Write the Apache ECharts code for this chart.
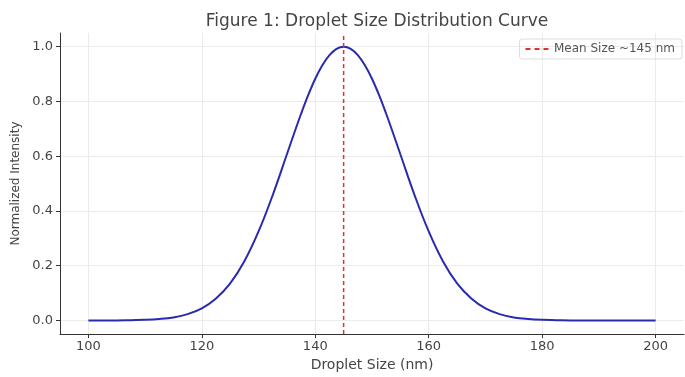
<!DOCTYPE html>
<html style="height: 100%">
<head>
    <meta charset="utf-8">
    <title>Droplet Size Distribution</title>
    <script src="https://cdn.jsdelivr.net/npm/echarts/dist/echarts.min.js"></script>
</head>
<body style="height: 100%; margin: 0; background: #fff">
    <div id="main" style="width: 685px; height: 377px"></div>
    <script type="text/javascript">
        // droplet size (nm) and normalized intensity
        var sizes = [100, 102.5, 105, 107.5, 110, 112.5, 115, 117.5, 120, 122.5, 125, 127.5, 130, 132.5, 135, 136.25, 137.5, 138.75,
            140, 141.25, 142.5, 143.75, 145, 146.25, 147.5, 148.75, 150, 151.25, 152.5, 153.75, 155, 157.5, 160, 162.5, 165,
            167.5, 170, 172.5, 175, 177.5, 180, 182.5, 185, 187.5, 190, 192.5, 195, 197.5, 200];
        var intensity = [0.000, 0.000, 0.000, 0.001, 0.002, 0.005, 0.011, 0.023, 0.044, 0.080, 0.135, 0.216, 0.325, 0.458, 0.607, 0.682, 0.755, 0.823,
            0.883, 0.932, 0.969, 0.992, 1.000, 0.992, 0.969, 0.932, 0.883, 0.823, 0.755, 0.682, 0.607, 0.458, 0.325, 0.216, 0.135,
            0.080, 0.044, 0.023, 0.011, 0.005, 0.002, 0.001, 0.000, 0.000, 0.000, 0.000, 0.000, 0.000, 0.000];
        var meanSize = 145;
        var xTicks = [100, 120, 140, 160, 180, 200];
        var yTicks = [0, 0.2, 0.4, 0.6, 0.8, 1.0];

        var curve = sizes.map(function (s, i) { return [s, intensity[i]]; });
        var meanLine = [[meanSize, -0.05], [meanSize, 1.05]];

        var font = 'DejaVu Sans';
        var myChart = echarts.init(document.getElementById('main'));

        var option = {
            animation: false,
            title: {
                text: 'Figure 1: Droplet Size Distribution Curve',
                left: 372,
                textAlign: 'center',
                top: 8,
                textStyle: { fontFamily: font, fontSize: 17, fontWeight: 'normal', color: '#444' }
            },
            legend: {
                data: [{ name: 'Mean Size ~145 nm', icon: 'path://M0,0h5v2h-5zM9,0h5v2h-5zM18,0h5v2h-5z' }],
                right: 3,
                top: 39,
                itemWidth: 24,
                itemHeight: 2,
                itemGap: 8,
                padding: [4, 7, 4, 6],
                borderColor: '#ddd',
                borderWidth: 1,
                borderRadius: 3,
                itemStyle: { color: '#e03030' },
                textStyle: { fontFamily: font, fontSize: 12, color: '#555' }
            },
            grid: { left: 60, right: 1, top: 33, bottom: 32 },
            xAxis: {
                type: 'value',
                min: 95,
                max: 205,
                name: 'Droplet Size (nm)',
                nameLocation: 'middle',
                nameGap: 22,
                nameTextStyle: { fontFamily: font, fontSize: 14, color: '#444' },
                axisLine: { show: true, onZero: false, lineStyle: { color: '#333', width: 1 } },
                axisTick: { show: true, length: 4, customValues: xTicks, lineStyle: { color: '#333' } },
                axisLabel: { customValues: xTicks, fontFamily: font, fontSize: 13, color: '#444', margin: 6 },
                splitLine: { show: true, customValues: xTicks, lineStyle: { color: '#ebebeb', width: 1 } }
            },
            yAxis: {
                type: 'value',
                min: -0.05,
                max: 1.05,
                name: 'Normalized Intensity',
                nameLocation: 'middle',
                nameGap: 38,
                nameTextStyle: { fontFamily: font, fontSize: 12, color: '#444' },
                axisLine: { show: true, onZero: false, lineStyle: { color: '#333', width: 1 } },
                axisTick: { show: true, length: 4, customValues: yTicks, lineStyle: { color: '#333' } },
                axisLabel: {
                    customValues: yTicks, fontFamily: font, fontSize: 13, color: '#444', margin: 7,
                    formatter: function (v) { return v.toFixed(1); }
                },
                splitLine: { show: true, customValues: yTicks, lineStyle: { color: '#ebebeb', width: 1 } }
            },
            series: [
                {
                    name: 'Intensity',
                    type: 'line',
                    data: curve,
                    smooth: 0.4,
                    showSymbol: false,
                    lineStyle: { color: '#2a2ab0', width: 2 }
                },
                {
                    name: 'Mean Size ~145 nm',
                    type: 'line',
                    data: meanLine,
                    showSymbol: false,
                    symbol: 'none',
                    itemStyle: { color: '#e03030' },
                    lineStyle: { color: '#e03030', width: 1.5, type: [4, 3] }
                }
            ]
        };

        myChart.setOption(option);
    </script>
</body>
</html>
